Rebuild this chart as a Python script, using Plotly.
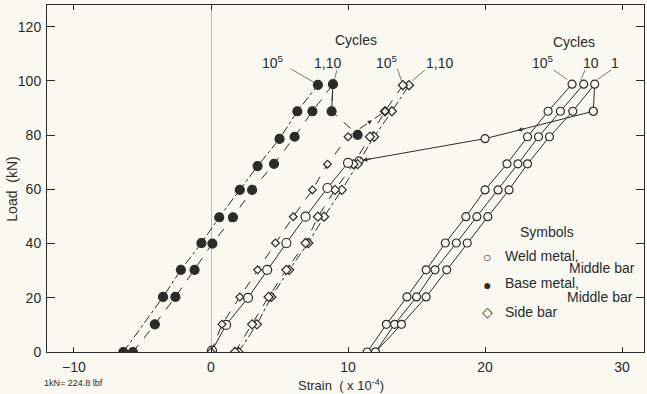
import plotly.graph_objects as go

# ---------------- data (strain x1e-4, load kN) ----------------
# Base metal, middle bar (filled circles)
bm_1e5_x = [-6.4, -3.5, -2.2, -0.7, 0.6, 2.1, 3.4, 5.0, 6.3, 7.8]
bm_1e5_y = [0, 20.3, 30.3, 40.2, 49.7, 59.8, 68.6, 78.6, 88.8, 98.5]
bm_110_x = [-5.7, -4.1, -2.6, -1.2, 0.1, 1.6, 3.0, 4.6, 6.1, 7.4, 8.9, 8.8, 10.7]
bm_110_y = [0, 10.2, 20.3, 30.3, 40.0, 49.7, 59.8, 69.4, 79.4, 88.8, 98.8, 88.8, 80.1]

# Middle group: small diamonds (10^5 side bar), weld circles, side bar diamonds
mid_sd_x = [0.0, 0.8, 2.1, 3.4, 4.7, 6.0, 7.4, 8.5, 10.0, 12.7]
mid_sd_y = [0, 10.2, 20.3, 30.3, 40.2, 49.9, 59.8, 69.3, 79.4, 88.8]
mid_wc_x = [0.07, 1.1, 2.7, 4.1, 5.5, 6.9, 8.5, 10.0]
mid_wc_y = [0.5, 10.0, 20.0, 30.3, 40.2, 49.9, 60.5, 69.8]
side_b_x = [1.75, 3.0, 4.2, 5.5, 6.9, 7.8, 9.05, 10.4, 11.6, 12.7, 14.0]
side_c_x = [2.0, 3.35, 4.4, 5.7, 7.1, 8.25, 9.55, 10.7, 11.9, 13.2, 14.45]
side_y = [0, 10.2, 20.3, 30.3, 40.2, 49.9, 59.8, 69.3, 79.4, 88.8, 98.4]

# Right group: weld metal, middle bar (open circles), cycles 10^5, 10, 1
wm_a_x = [11.4, 12.8, 14.3, 15.7, 17.1, 18.6, 20.0, 21.6, 23.1, 24.6, 26.35]
wm_b_x = [12.0, 13.4, 15.0, 16.35, 17.9, 19.4, 20.95, 22.4, 23.9, 25.5, 27.2]
wm_c_x = [12.0, 13.9, 15.7, 17.2, 18.7, 20.2, 21.75, 23.1, 24.7, 26.4, 28.0, 27.9]
wm_y = [0, 10.2, 20.3, 30.3, 40.2, 49.9, 59.8, 69.4, 79.4, 88.8, 98.8]
wm_c_y = wm_y + [88.8]
# unloading path from right group to middle group
unl_x = [27.9, 20.0, 10.8]
unl_y = [88.8, 78.7, 70.5]

x_ticks = [-10, 0, 10, 20, 30]
y_ticks = [0, 20, 40, 60, 80, 100, 120]

INK = "#2b2b2b"
BG = "#f9f9f2"
FONT = "Liberation Sans"

fig = go.Figure()


def add(x, y, dash, symbol, size, filled=False, width=1.0):
    fig.add_trace(go.Scatter(
        x=x, y=y, mode="lines+markers",
        line=dict(color=INK, width=width, dash=dash),
        marker=dict(symbol=symbol, size=size,
                    color=INK if filled else BG,
                    line=dict(color=INK, width=1.2)),
        showlegend=False, hoverinfo="skip"))


add(unl_x, unl_y, "solid", "circle", 8)
add(bm_1e5_x, bm_1e5_y, "dashdot", "circle", 9, filled=True)
add(bm_110_x, bm_110_y, "dash", "circle", 9, filled=True)
add(side_c_x, side_y, "dashdot", "diamond", 7)
add(side_b_x, side_y, "dash", "diamond", 7)
add(mid_wc_x, mid_wc_y, "solid", "circle", 9)
add(mid_sd_x, mid_sd_y, "dash", "diamond", 6)
add(wm_a_x, wm_y, "solid", "circle", 8)
add(wm_b_x, wm_y, "solid", "circle", 8)
add(wm_c_x, wm_c_y, "solid", "circle", 8)

annotations = []


def arrow_on(xs, ys, i, frac):
    # arrowhead placed along segment i -> i+1 of a series
    x0, y0, x1, y1 = xs[i], ys[i], xs[i + 1], ys[i + 1]
    hx, hy = x0 + (x1 - x0) * frac, y0 + (y1 - y0) * frac
    tx, ty = x0 + (x1 - x0) * (frac - 0.08), y0 + (y1 - y0) * (frac - 0.08)
    annotations.append(dict(x=hx, y=hy, ax=tx, ay=ty, xref="x", yref="y",
                            axref="x", ayref="y", text="", showarrow=True,
                            arrowhead=2, arrowsize=0.9, arrowwidth=1,
                            arrowcolor=INK))


arrow_on(unl_x, unl_y, 1, 0.97)
arrow_on(unl_x, unl_y, 0, 0.7)
arrow_on(mid_sd_x, mid_sd_y, 8, 0.65)
arrow_on(wm_c_x, wm_c_y, 5, 0.5)
arrow_on(wm_b_x, wm_y, 1, 0.5)

FS = 14
txt = dict(xref="x", yref="y", showarrow=False, font=dict(family=FONT, size=FS, color=INK))
labels = [
    ("Cycles", 10.6, 115.2, "center"),
    ("10<sup>5</sup>", 4.5, 107.1, "center"),
    ("1,10", 8.5, 106.7, "center"),
    ("10<sup>5</sup>", 12.85, 107.1, "center"),
    ("1,10", 16.7, 106.7, "center"),
    ("Cycles", 26.5, 114.5, "center"),
    ("10<sup>5</sup>", 24.2, 107.1, "center"),
    ("10", 27.7, 106.7, "center"),
    ("1", 29.5, 106.7, "center"),
    ("Symbols", 24.5, 44.3, "center"),
    ("○", 20.15, 35.1, "center"),
    ("Weld metal,", 21.3, 35.3, "left"),
    ("Middle bar", 26.0, 31.0, "left"),
    ("●", 20.15, 24.9, "center"),
    ("Base metal,", 21.3, 25.5, "left"),
    ("Middle bar", 25.8, 20.3, "left"),
    ("◇", 20.15, 14.8, "center"),
    ("Side bar", 21.3, 14.6, "left"),
]
for t, x, y, al in labels:
    a = dict(txt, text=t, x=x, y=y, xanchor=al)
    annotations.append(a)

annotations.append(dict(text="Load  (kN)", xref="paper", yref="paper",
                        x=-0.059, y=0.47, xanchor="center", yanchor="middle",
                        textangle=-90, showarrow=False,
                        font=dict(family=FONT, size=FS, color=INK)))
annotations.append(dict(text="Strain  ( x 10<sup>-4</sup>)", xref="x", yref="paper",
                        x=9.5, y=-0.096, yanchor="middle", showarrow=False,
                        font=dict(family=FONT, size=13, color=INK)))
annotations.append(dict(text="1kN= 224.8 lbf", xref="paper", yref="paper",
                        x=-0.008, y=-0.09, xanchor="left", yanchor="middle",
                        showarrow=False, font=dict(family=FONT, size=9, color=INK)))

# leader lines from cycle labels to curves
leaders = [
    (5.8, 104.5, 7.5, 99.5), (9.2, 104.0, 9.0, 100.5),
    (13.6, 104.5, 13.9, 100.0), (15.6, 104.0, 14.7, 100.0),
    (25.0, 104.0, 26.0, 100.5), (27.3, 104.0, 27.0, 100.5),
    (29.2, 104.0, 28.2, 100.5),
]
shapes = [dict(type="line", xref="x", yref="y", x0=a, y0=b, x1=c, y1=d,
               line=dict(color="#555", width=0.8)) for a, b, c, d in leaders]
shapes.append(dict(type="line", xref="x", yref="y", x0=8.9, y0=98.8, x1=8.8, y1=88.8,
                   line=dict(color=INK, width=1)))

fig.update_layout(
    width=647, height=394,
    margin=dict(l=47, r=3, t=5, b=42, autoexpand=False),
    paper_bgcolor=BG, plot_bgcolor=BG,
    font=dict(family=FONT, size=FS, color=INK),
    annotations=annotations, shapes=shapes,
    xaxis=dict(range=[-11.97, 31.6], tickvals=x_ticks, showgrid=False,
               automargin=False,
               zeroline=True, zerolinecolor="#bdbdb5", zerolinewidth=1,
               showline=True, linecolor=INK, linewidth=1, mirror="ticks",
               ticks="inside", ticklen=5, tickcolor=INK,
               tickfont=dict(family=FONT, size=FS, color=INK), ticklabelstandoff=2),
    yaxis=dict(range=[0, 128], tickvals=y_ticks, showgrid=False, zeroline=False,
               automargin=False,
               showline=True, linecolor=INK, linewidth=1, mirror="ticks",
               ticks="inside", ticklen=8, tickcolor=INK,
               tickfont=dict(family=FONT, size=FS, color=INK), ticklabelstandoff=2),
)

fig.write_html("out.html",
               config={"displayModeBar": False},
               post_script="document.body.style.margin='0';"
                           "document.body.style.background='" + BG + "';")
